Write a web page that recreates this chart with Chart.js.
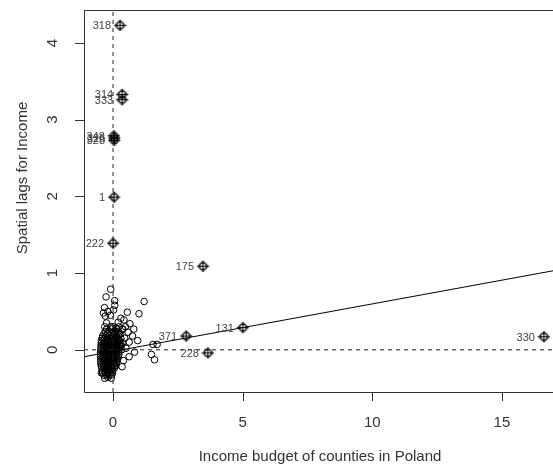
<!DOCTYPE html>
<html>
<head>
<meta charset="utf-8">
<script src="https://cdn.jsdelivr.net/npm/chart.js@4.4.1/dist/chart.umd.min.js"></script>
<style>
  html, body { margin: 0; padding: 0; background: #fff; overflow: hidden; }
  #moran { display: block; }
</style>
</head>
<body>
<canvas id="moran" width="553" height="465"></canvas>
<script>
// Influential counties (labelled)
const inflLabels = ['318', '314', '333', '348', '326', '328', '1', '222', '175', '371', '131', '228', '330'];
const inflIncome = [0.27, 0.35, 0.35, 0.03, 0.05, 0.04, 0.04, 0.00, 3.47, 2.82, 5.01, 3.66, 16.62];
const inflLag = [4.23, 3.33, 3.26, 2.79, 2.76, 2.73, 1.99, 1.39, 1.09, 0.18, 0.29, -0.04, 0.17];

// Scattered counties outside the dense cloud
const looseIncome = [-0.09, -0.27, 0.06, 1.20, 0.07, -0.33, 0.55, 1.00, -0.37, -0.30, -0.20, 0.02, -0.10, 0.30, 0.42,
  0.20, 0.65, 0.48, 0.80, 0.35, 0.58, 0.75, 0.95, 0.45, 0.62, 1.54, 1.70, 1.48, 1.60, 0.83, 0.62, 0.50, 0.40, 0.35,
  -0.45, -0.32, -0.07, -0.20, -0.10, 0.12, -0.25, 0.25, 0.30];
const looseLag = [0.79, 0.69, 0.64, 0.63, 0.58, 0.55, 0.49, 0.47, 0.48, 0.44, 0.50, 0.52, 0.45, 0.41, 0.39,
  0.36, 0.34, 0.30, 0.27, 0.27, 0.23, 0.18, 0.12, 0.15, 0.10, 0.07, 0.07, -0.06, -0.13, -0.03, -0.09, 0.02, -0.14, -0.22,
  -0.30, -0.37, -0.37, -0.36, 0.30, 0.28, 0.35, 0.20, 0.05];

// Dense cloud near the origin, one row per lag level
const cloudLag = [0.30, 0.27, 0.24, 0.21, 0.18, 0.15, 0.12, 0.09, 0.06, 0.03, 0.00, -0.03, -0.06, -0.09, -0.12, -0.15, -0.18, -0.21, -0.24, -0.27, -0.30, -0.33];
const cloudIncome = [
  [-0.32, 0.00, 0.22],
  [-0.25, -0.05, 0.15, 0.38],
  [-0.30, -0.15, 0.05, 0.20],
  [-0.35, -0.20, -0.05, 0.10, 0.28],
  [-0.40, -0.28, -0.15, -0.02, 0.12, 0.22],
  [-0.42, -0.32, -0.22, -0.12, -0.02, 0.08, 0.18, 0.30],
  [-0.45, -0.35, -0.25, -0.15, -0.05, 0.05, 0.15, 0.25],
  [-0.45, -0.35, -0.25, -0.15, -0.05, 0.05, 0.15, 0.25, 0.38],
  [-0.46, -0.36, -0.26, -0.16, -0.06, 0.04, 0.14, 0.24, 0.32],
  [-0.47, -0.37, -0.27, -0.17, -0.07, 0.03, 0.13, 0.23],
  [-0.47, -0.37, -0.27, -0.17, -0.07, 0.03, 0.13, 0.23, 0.33],
  [-0.48, -0.38, -0.28, -0.18, -0.08, 0.02, 0.12, 0.22],
  [-0.48, -0.38, -0.28, -0.18, -0.08, 0.02, 0.12, 0.22],
  [-0.48, -0.38, -0.28, -0.18, -0.08, 0.02, 0.12, 0.20],
  [-0.48, -0.38, -0.28, -0.18, -0.08, 0.02, 0.12, 0.18],
  [-0.47, -0.37, -0.27, -0.17, -0.07, 0.03, 0.13],
  [-0.47, -0.37, -0.27, -0.17, -0.07, 0.03, 0.12],
  [-0.45, -0.35, -0.25, -0.15, -0.05, 0.05, 0.10],
  [-0.43, -0.33, -0.23, -0.13, -0.03, 0.05],
  [-0.42, -0.32, -0.22, -0.12, -0.02],
  [-0.40, -0.30, -0.20, -0.10, -0.02],
  [-0.35, -0.25, -0.15, -0.05]
];

// Regression line end points and the mean lines
const fitIncome = [-1.12, 16.97];
const fitLag = [-0.09, 1.03];
const meanIncome = 0;
const meanLag = 0;

const xTicks = [0, 5, 10, 15];
const yTicks = [0, 1, 2, 3, 4];
const xRange = [-1.12, 16.97];
const yRange = [-0.55, 4.43];

const FONT = '"Liberation Sans", Arial, sans-serif';

// build point lists
const cloudPoints = [];
cloudLag.forEach((lag, i) => {
    cloudIncome[i].forEach(v => cloudPoints.push({ x: v, y: lag }));
});
looseIncome.forEach((v, i) => cloudPoints.push({ x: v, y: looseLag[i] }));
const inflPoints = inflIncome.map((v, i) => ({ x: v, y: inflLag[i] }));

// diamond-plus marker (R pch 9 over pch 1)
function makeMarker() {
    const c = document.createElement('canvas');
    c.width = 13; c.height = 13;
    const g = c.getContext('2d');
    g.strokeStyle = '#000';
    g.lineWidth = 1;
    g.beginPath();
    g.arc(6.5, 6.5, 3.3, 0, Math.PI * 2);
    g.stroke();
    g.beginPath();
    g.moveTo(6.5, 1); g.lineTo(12, 6.5); g.lineTo(6.5, 12); g.lineTo(1, 6.5); g.closePath();
    g.moveTo(6.5, 1); g.lineTo(6.5, 12);
    g.moveTo(1, 6.5); g.lineTo(12, 6.5);
    g.stroke();
    return c;
}

const axesPlugin = {
    id: 'rAxes',
    afterDatasetsDraw(chart) {
        const ctx = chart.ctx;
        const a = chart.chartArea;
        const xs = chart.scales.x, ys = chart.scales.y;
        ctx.save();

        // point labels
        ctx.fillStyle = '#444';
        ctx.font = '11px ' + FONT;
        ctx.textAlign = 'right';
        ctx.textBaseline = 'middle';
        inflLabels.forEach((lab, i) => {
            ctx.fillText(lab, xs.getPixelForValue(inflIncome[i]) - 9, ys.getPixelForValue(inflLag[i]) + 1);
        });

        // box (right side is off the picture)
        ctx.strokeStyle = '#333';
        ctx.lineWidth = 1;
        ctx.beginPath();
        ctx.moveTo(chart.width, a.top + 0.5);
        ctx.lineTo(a.left + 0.5, a.top + 0.5);
        ctx.lineTo(a.left + 0.5, a.bottom + 0.5);
        ctx.lineTo(chart.width, a.bottom + 0.5);
        ctx.stroke();

        // ticks
        ctx.beginPath();
        xTicks.forEach(t => {
            const px = Math.round(xs.getPixelForValue(t)) + 0.5;
            ctx.moveTo(px, a.bottom); ctx.lineTo(px, a.bottom + 9);
        });
        yTicks.forEach(t => {
            const py = Math.round(ys.getPixelForValue(t)) + 0.5;
            ctx.moveTo(a.left - 9, py); ctx.lineTo(a.left, py);
        });
        ctx.stroke();

        ctx.fillStyle = '#333';
        ctx.font = '15px ' + FONT;
        ctx.textAlign = 'center';
        ctx.textBaseline = 'middle';
        xTicks.forEach(t => ctx.fillText(String(t), xs.getPixelForValue(t), 423));
        yTicks.forEach(t => {
            ctx.save();
            ctx.translate(53, ys.getPixelForValue(t));
            ctx.rotate(-Math.PI / 2);
            ctx.fillText(String(t), 0, 0);
            ctx.restore();
        });

        // axis titles
        ctx.textBaseline = 'alphabetic';
        ctx.fillText('Income budget of counties in Poland', 320, 461);
        ctx.save();
        ctx.translate(27, 178);
        ctx.rotate(-Math.PI / 2);
        ctx.fillText('Spatial lags for Income', 0, 0);
        ctx.restore();
        ctx.restore();
    }
};

new Chart(document.getElementById('moran'), {
    type: 'scatter',
    data: {
        datasets: [
            {
                label: 'counties',
                data: cloudPoints,
                pointStyle: 'circle',
                pointRadius: 3.3,
                borderWidth: 1,
                borderColor: '#000',
                backgroundColor: 'rgba(0,0,0,0)',
                order: 2
            },
            {
                label: 'influential',
                data: inflPoints,
                pointStyle: makeMarker(),
                pointRadius: 6,
                order: 1
            },
            {
                type: 'line',
                label: 'fit',
                data: fitIncome.map((v, i) => ({ x: v, y: fitLag[i] })),
                borderColor: '#000',
                borderWidth: 1,
                pointRadius: 0,
                fill: false,
                order: 0
            },
            {
                type: 'line',
                label: 'mean x',
                data: [{ x: meanIncome, y: yRange[0] }, { x: meanIncome, y: yRange[1] }],
                borderColor: '#222',
                borderWidth: 1,
                borderDash: [4, 4],
                pointRadius: 0,
                fill: false,
                order: 0
            },
            {
                type: 'line',
                label: 'mean lag',
                data: [{ x: xRange[0], y: meanLag }, { x: xRange[1], y: meanLag }],
                borderColor: '#222',
                borderWidth: 1,
                borderDash: [4, 4],
                pointRadius: 0,
                fill: false,
                order: 0
            }
        ]
    },
    options: {
        responsive: false,
        animation: false,
        devicePixelRatio: 1,
        layout: { autoPadding: false, padding: { left: 84, top: 10, right: 0, bottom: 73 } },
        scales: {
            x: { type: 'linear', min: xRange[0], max: xRange[1], display: false },
            y: { type: 'linear', min: yRange[0], max: yRange[1], display: false }
        },
        plugins: {
            legend: { display: false },
            tooltip: { enabled: false }
        }
    },
    plugins: [axesPlugin]
});
</script>
</body>
</html>
